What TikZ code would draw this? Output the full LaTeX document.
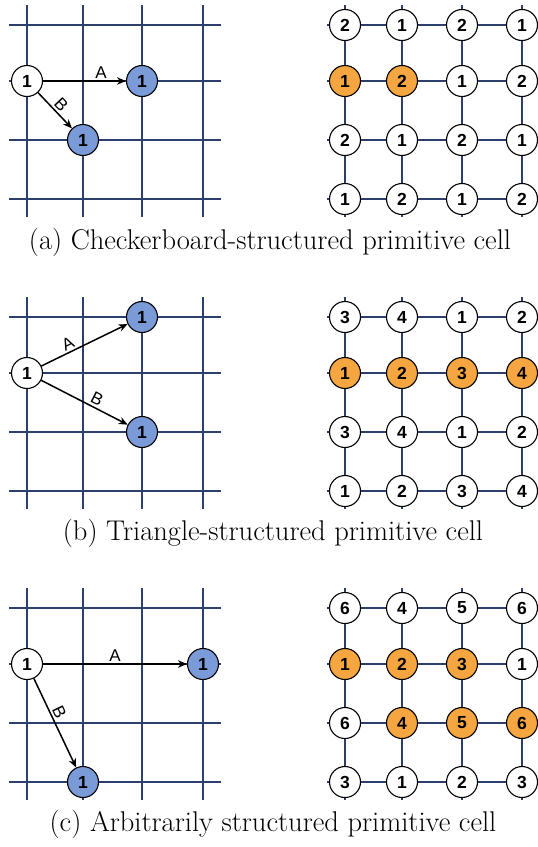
\documentclass[tikz,border=0pt]{standalone}
\usepackage{fontspec}
\newfontfamily\numfont{Liberation Sans}
\usetikzlibrary{arrows.meta}
\definecolor{navy}{HTML}{2C3E6B}
\definecolor{bluefill}{HTML}{7B9BD8}
\definecolor{orangefill}{HTML}{F5A640}
\begin{document}
\begin{tikzpicture}[x=1pt,y=-1pt,
  lgrid/.style={draw=navy, line width=2.8pt},
  rgrid/.style={draw=navy, line width=1.9pt},
  wnode/.style={circle, draw=black, line width=1.1pt, fill=white, minimum size=31pt, inner sep=0pt,
    font=\numfont\bfseries\fontsize{17.5}{17.5}\selectfont},
  bnode/.style={wnode, fill=bluefill},
  onode/.style={wnode, fill=orangefill},
  arr/.style={-{Stealth[length=9pt,width=7.5pt]}, line width=1.5pt, draw=black},
  lab/.style={font=\numfont\fontsize{17}{17}\selectfont, sloped, above, inner sep=2pt},
  captext/.style={font=\fontsize{28.5}{32}\selectfont, inner sep=0pt}
]
\useasboundingbox (0,0) rectangle (538,847);
% grids
\foreach \t in {25,317,608} {
  \foreach \r in {0,56,115,174} \draw[lgrid] (9,\t+\r) -- (221,\t+\r);
  \foreach \c in {27,83,142,203} \draw[lgrid] (\c,\t-20) -- (\c,\t+192);
  \foreach \r in {0,56,115,174} \draw[rgrid] (327,\t+\r) -- (538,\t+\r);
  \foreach \c in {345,402,462,522} \draw[rgrid] (\c,\t-20) -- (\c,\t+192);
}
% ---- panel (a) ----
\node[wnode] (la0) at (27,81) {1};
\node[bnode] (laA) at (142,81) {1};
\node[bnode] (laB) at (83,140) {1};
\draw[arr] (la0) -- node[lab, pos=0.7] {A} (laA);
\draw[arr] (la0) -- node[lab, pos=0.5] {B} (laB);
\foreach \x/\n/\s [count=\k] in {345/2/wnode,402/1/wnode,462/2/wnode,522/1/wnode} \node[\s] (ra1\k) at (\x,25) {\n};
\foreach \x/\n/\s [count=\k] in {345/1/onode,402/2/onode,462/1/wnode,522/2/wnode} \node[\s] (ra2\k) at (\x,81) {\n};
\foreach \x/\n/\s [count=\k] in {345/2/wnode,402/1/wnode,462/2/wnode,522/1/wnode} \node[\s] (ra3\k) at (\x,140) {\n};
\foreach \x/\n/\s [count=\k] in {345/1/wnode,402/2/wnode,462/1/wnode,522/2/wnode} \node[\s] (ra4\k) at (\x,199) {\n};
\node[captext] (capa) at (270,242) {(a) Checkerboard-structured primitive cell};
% ---- panel (b) ----
\node[wnode] (lb0) at (27,373) {1};
\node[bnode] (lbA) at (142,317) {1};
\node[bnode] (lbB) at (142,432) {1};
\draw[arr] (lb0) -- node[lab, pos=0.35] {A} (lbA);
\draw[arr] (lb0) -- node[lab, pos=0.6] {B} (lbB);
\foreach \x/\n/\s [count=\k] in {345/3/wnode,402/4/wnode,462/1/wnode,522/2/wnode} \node[\s] (rb1\k) at (\x,317) {\n};
\foreach \x/\n/\s [count=\k] in {345/1/onode,402/2/onode,462/3/onode,522/4/onode} \node[\s] (rb2\k) at (\x,373) {\n};
\foreach \x/\n/\s [count=\k] in {345/3/wnode,402/4/wnode,462/1/wnode,522/2/wnode} \node[\s] (rb3\k) at (\x,432) {\n};
\foreach \x/\n/\s [count=\k] in {345/1/wnode,402/2/wnode,462/3/wnode,522/4/wnode} \node[\s] (rb4\k) at (\x,491) {\n};
\node[captext] (capb) at (273,533) {(b) Triangle-structured primitive cell};
% ---- panel (c) ----
\node[wnode] (lc0) at (27,664) {1};
\node[bnode] (lcA) at (203,664) {1};
\node[bnode] (lcB) at (83,782) {1};
\draw[arr] (lc0) -- node[lab, pos=0.5] {A} (lcA);
\draw[arr] (lc0) -- node[lab, pos=0.42] {B} (lcB);
\foreach \x/\n/\s [count=\k] in {345/6/wnode,402/4/wnode,462/5/wnode,522/6/wnode} \node[\s] (rc1\k) at (\x,608) {\n};
\foreach \x/\n/\s [count=\k] in {345/1/onode,402/2/onode,462/3/onode,522/1/wnode} \node[\s] (rc2\k) at (\x,664) {\n};
\foreach \x/\n/\s [count=\k] in {345/6/wnode,402/4/onode,462/5/onode,522/6/onode} \node[\s] (rc3\k) at (\x,723) {\n};
\foreach \x/\n/\s [count=\k] in {345/3/wnode,402/1/wnode,462/2/wnode,522/3/wnode} \node[\s] (rc4\k) at (\x,782) {\n};
\node[captext] (capc) at (273,824) {(c) Arbitrarily structured primitive cell};
\end{tikzpicture}
\end{document}
